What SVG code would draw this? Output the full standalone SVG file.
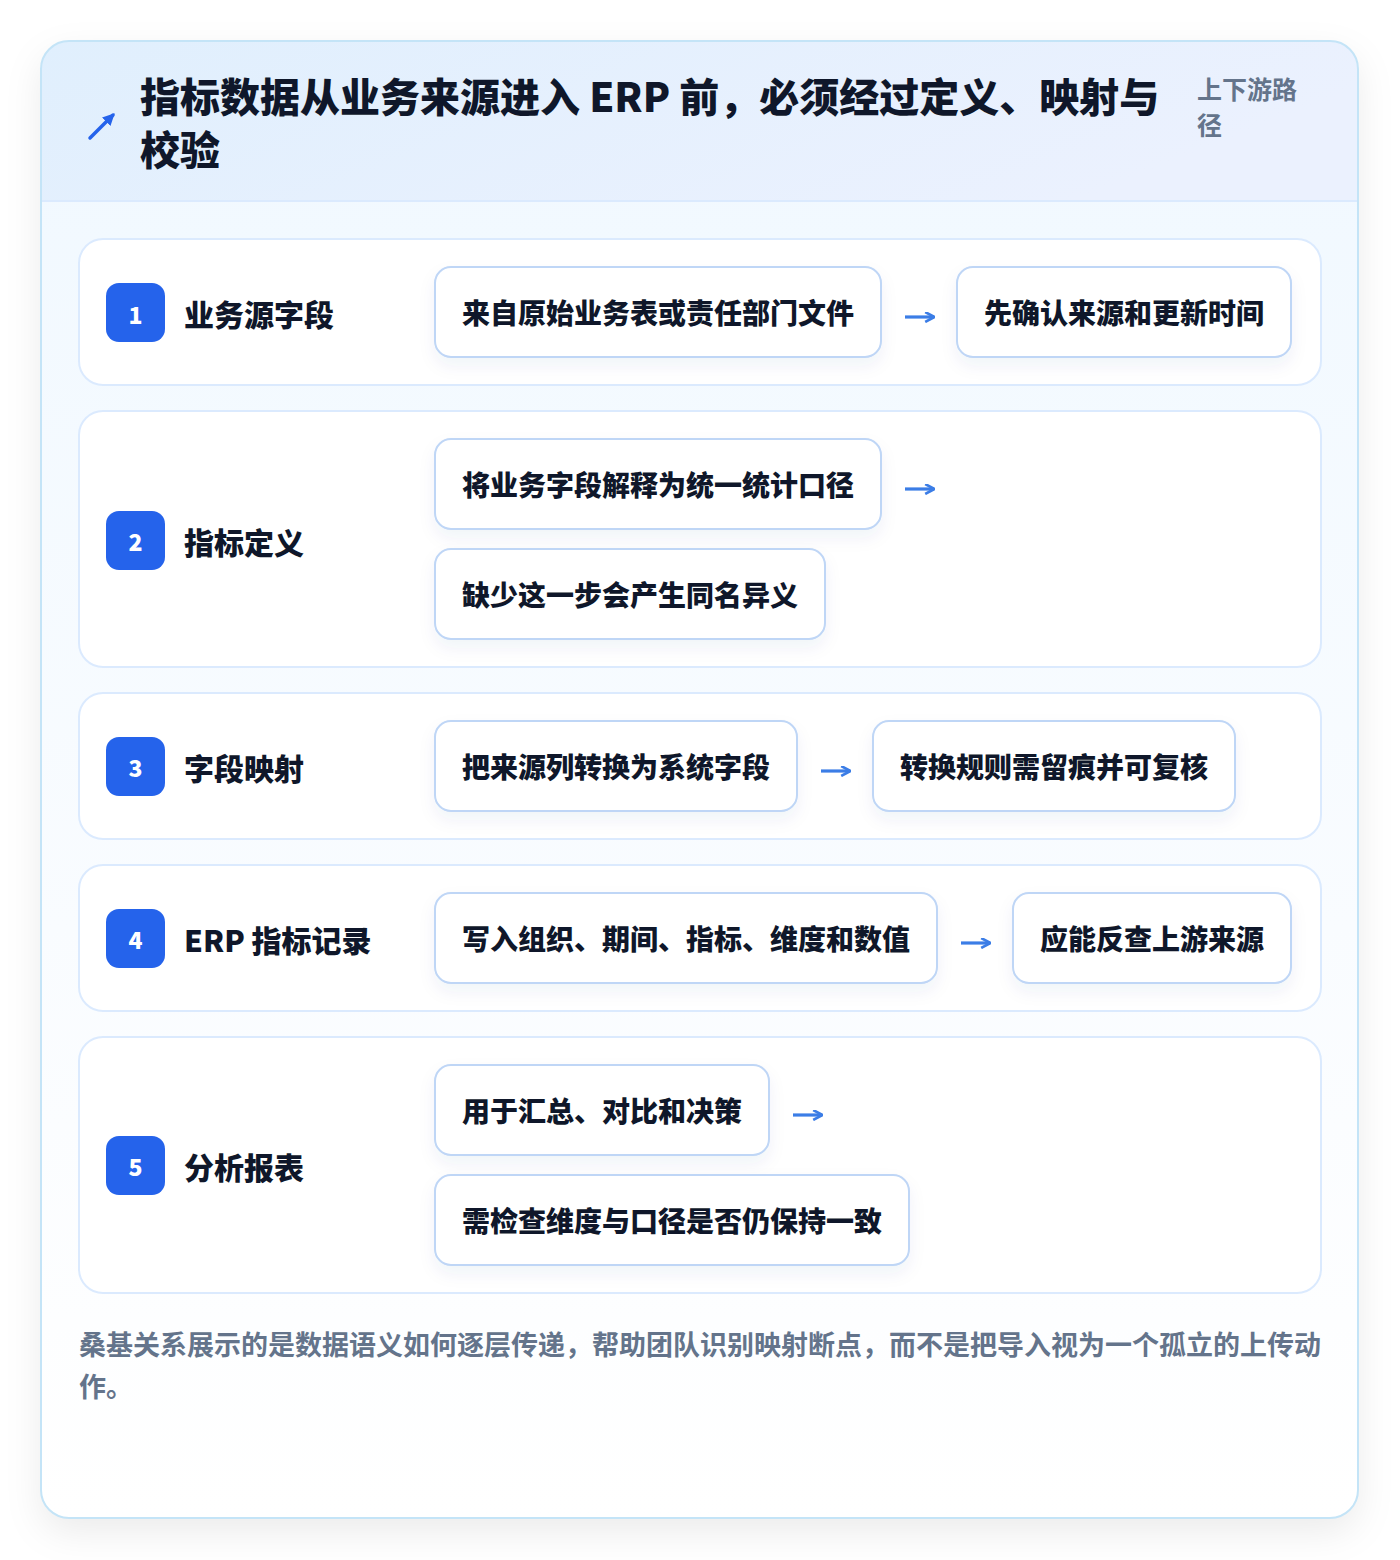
<svg xmlns="http://www.w3.org/2000/svg" width="1400" height="1560" viewBox="0 0 1400 1560">
<defs>
<linearGradient id="hdr" x1="0" y1="0" x2="1" y2="0.3">
<stop offset="0" stop-color="#e0effd"/>
<stop offset="1" stop-color="#ebf1fe"/>
</linearGradient>
<linearGradient id="bodyg" x1="0" y1="0" x2="0" y2="1">
<stop offset="0" stop-color="#f0f8ff"/>
<stop offset="0.6" stop-color="#f9fcff"/>
<stop offset="1" stop-color="#ffffff"/>
</linearGradient>
<filter id="cardsh" x="-10%" y="-10%" width="120%" height="120%">
<feDropShadow dx="0" dy="14" stdDeviation="18" flood-color="#0f172a" flood-opacity="0.08"/>
</filter>
<filter id="boxsh" x="-10%" y="-20%" width="120%" height="160%">
<feDropShadow dx="0" dy="8" stdDeviation="8" flood-color="#1e3a8a" flood-opacity="0.06"/>
</filter>
<clipPath id="cardclip"><rect x="41" y="41" width="1317" height="1477" rx="28"/></clipPath>
<marker id="ah" viewBox="0 0 10 10" refX="9" refY="5" markerWidth="11" markerHeight="11" markerUnits="userSpaceOnUse" orient="auto">
<path d="M1 0.5 L9.5 5 L1 9.5" fill="none" stroke="#3b7de6" stroke-width="2.4" stroke-linejoin="miter"/>
</marker>
<marker id="ah2" viewBox="0 0 10 10" refX="8" refY="5" markerWidth="12" markerHeight="12" markerUnits="userSpaceOnUse" orient="auto">
<path d="M0 0 L10 5 L0 10 Z" fill="#2563eb"/>
</marker>
</defs>
<style>
.t{font-family:"Noto Sans CJK SC","Noto Sans",sans-serif;}
.title{font-size:40px;font-weight:900;fill:#0f172a;}
.sub{font-size:25px;font-weight:700;fill:#64748b;}
.row{fill:#ffffff;stroke:#dbeafe;stroke-width:2;}
.badge{fill:#2563eb;}
.num{font-size:23px;font-weight:900;fill:#ffffff;text-anchor:middle;dominant-baseline:central;}
.lbl{font-size:30px;font-weight:900;fill:#0f172a;dominant-baseline:central;}
.box{fill:#ffffff;stroke:#bfd6f6;stroke-width:2;}
.bt{font-size:28px;font-weight:900;fill:#0f172a;dominant-baseline:central;}
.conn{fill:none;stroke:#3b7de6;stroke-width:3.2;}
.foot{font-size:27px;font-weight:700;fill:#64748b;}
</style>
<rect x="0" y="0" width="1400" height="1560" fill="#ffffff"/>
<g id="card">
<rect x="41" y="41" width="1317" height="1477" rx="28" fill="url(#bodyg)" filter="url(#cardsh)"/>
<g clip-path="url(#cardclip)">
<rect x="41" y="41" width="1317" height="160" fill="url(#hdr)"/>
<line x1="41" y1="201" x2="1358" y2="201" stroke="#dbeafe" stroke-width="2"/>
</g>
<rect x="41" y="41" width="1317" height="1477" rx="28" fill="none" stroke="#c4e4f7" stroke-width="2"/>
</g>
<g id="header">
<path d="M90 138 L113 115" fill="none" stroke="#2563eb" stroke-width="3.5" stroke-linecap="round" marker-end="url(#ah2)"/>
<text class="t title" x="140" y="112">指标数据从业务来源进入 ERP 前，必须经过定义、映射与</text>
<text class="t title" x="140" y="165">校验</text>
<text class="t sub" x="1197" y="99">上下游路</text>
<text class="t sub" x="1197" y="135">径</text>
</g>
<g id="row1">
<rect class="row" x="79" y="239" width="1242" height="146" rx="24"/>
<rect class="badge" x="106" y="283" width="59" height="59" rx="13"/>
<text class="t num" x="135.5" y="314">1</text>
<text class="t lbl" x="184" y="313">业务源字段</text>
<g id="n1a"><rect class="box" x="435" y="267" width="446" height="90" rx="16" filter="url(#boxsh)"/>
<text class="t bt" x="462" y="312">来自原始业务表或责任部门文件</text></g>
<g id="n1b"><rect class="box" x="957" y="267" width="334" height="90" rx="16" filter="url(#boxsh)"/>
<text class="t bt" x="984" y="312">先确认来源和更新时间</text></g>
</g>
<g id="row2">
<rect class="row" x="79" y="411" width="1242" height="256" rx="24"/>
<rect class="badge" x="106" y="511" width="59" height="59" rx="13"/>
<text class="t num" x="135.5" y="541">2</text>
<text class="t lbl" x="184" y="541">指标定义</text>
<g id="n2a"><rect class="box" x="435" y="439" width="446" height="90" rx="16" filter="url(#boxsh)"/>
<text class="t bt" x="462" y="484">将业务字段解释为统一统计口径</text></g>
<g id="n2b"><rect class="box" x="435" y="549" width="390" height="90" rx="16" filter="url(#boxsh)"/>
<text class="t bt" x="462" y="594">缺少这一步会产生同名异义</text></g>
</g>
<g id="row3">
<rect class="row" x="79" y="693" width="1242" height="146" rx="24"/>
<rect class="badge" x="106" y="737" width="59" height="59" rx="13"/>
<text class="t num" x="135.5" y="767">3</text>
<text class="t lbl" x="184" y="767">字段映射</text>
<g id="n3a"><rect class="box" x="435" y="721" width="362" height="90" rx="16" filter="url(#boxsh)"/>
<text class="t bt" x="462" y="766">把来源列转换为系统字段</text></g>
<g id="n3b"><rect class="box" x="873" y="721" width="362" height="90" rx="16" filter="url(#boxsh)"/>
<text class="t bt" x="900" y="766">转换规则需留痕并可复核</text></g>
</g>
<g id="row4">
<rect class="row" x="79" y="865" width="1242" height="146" rx="24"/>
<rect class="badge" x="106" y="909" width="59" height="59" rx="13"/>
<text class="t num" x="135.5" y="939">4</text>
<text class="t lbl" x="184" y="939">ERP 指标记录</text>
<g id="n4a"><rect class="box" x="435" y="893" width="502" height="90" rx="16" filter="url(#boxsh)"/>
<text class="t bt" x="462" y="938">写入组织、期间、指标、维度和数值</text></g>
<g id="n4b"><rect class="box" x="1013" y="893" width="278" height="90" rx="16" filter="url(#boxsh)"/>
<text class="t bt" x="1040" y="938">应能反查上游来源</text></g>
</g>
<g id="row5">
<rect class="row" x="79" y="1037" width="1242" height="256" rx="24"/>
<rect class="badge" x="106" y="1136" width="59" height="59" rx="13"/>
<text class="t num" x="135.5" y="1166">5</text>
<text class="t lbl" x="184" y="1166">分析报表</text>
<g id="n5a"><rect class="box" x="435" y="1065" width="334" height="90" rx="16" filter="url(#boxsh)"/>
<text class="t bt" x="462" y="1110">用于汇总、对比和决策</text></g>
<g id="n5b"><rect class="box" x="435" y="1175" width="474" height="90" rx="16" filter="url(#boxsh)"/>
<text class="t bt" x="462" y="1220">需检查维度与口径是否仍保持一致</text></g>
</g>
<g id="connectors">
<path class="conn" d="M905 317 H934" marker-end="url(#ah)"/>
<path class="conn" d="M905 489 H934" marker-end="url(#ah)"/>
<path class="conn" d="M821 771 H850" marker-end="url(#ah)"/>
<path class="conn" d="M961 943 H990" marker-end="url(#ah)"/>
<path class="conn" d="M793 1115 H822" marker-end="url(#ah)"/>
</g>
<g id="footer">
<text class="t foot" x="79" y="1355">桑基关系展示的是数据语义如何逐层传递，帮助团队识别映射断点，而不是把导入视为一个孤立的上传动</text>
<text class="t foot" x="79" y="1397">作。</text>
</g>
</svg>
